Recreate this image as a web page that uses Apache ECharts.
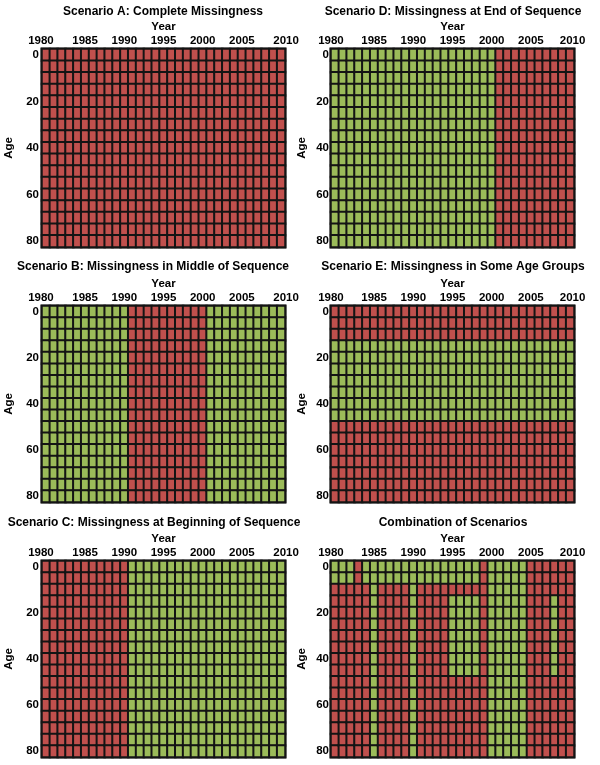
<!DOCTYPE html>
<html>
<head>
<meta charset="utf-8">
<script src="https://cdn.jsdelivr.net/npm/echarts@6/dist/echarts.min.js"></script>
<style>
  html, body { margin: 0; padding: 0; background: #fff; }
  #chart { width: 600px; height: 765px; }
</style>
</head>
<body>
<div id="chart"></div>
<script>
// ---- Data ----
const years = [1980, 1981, 1982, 1983, 1984, 1985, 1986, 1987, 1988, 1989, 1990,
               1991, 1992, 1993, 1994, 1995, 1996, 1997, 1998, 1999, 2000,
               2001, 2002, 2003, 2004, 2005, 2006, 2007, 2008, 2009, 2010];
const ages = [0, 5, 10, 15, 20, 25, 30, 35, 40, 45, 50, 55, 60, 65, 70, 75, 80];

const panelTitles = [
  'Scenario A: Complete Missingness',
  'Scenario D: Missingness at End of Sequence',
  'Scenario B: Missingness in Middle of Sequence',
  'Scenario E: Missingness in Some Age Groups',
  'Scenario C: Missingness at Beginning of Sequence',
  'Combination of Scenarios'
];

// Missing blocks: [yearFrom, yearTo, ageFrom, ageTo]  (all other cells observed)
const missingA = [[1980, 2010, 0, 80]];
const missingD = [[2001, 2010, 0, 80]];
const missingB = [[1991, 2000, 0, 80]];
const missingE = [[1980, 2010, 0, 10], [1980, 2010, 50, 80]];
const missingC = [[1980, 1990, 0, 80]];
const missingCombo = [
  [1983, 1983, 0, 5], [1999, 1999, 0, 5], [2005, 2010, 0, 5],
  [1980, 1984, 10, 80], [1986, 1989, 10, 80], [1991, 1994, 10, 80],
  [1995, 1998, 10, 10], [1995, 1998, 50, 80], [1999, 1999, 10, 80],
  [2005, 2007, 10, 80], [2008, 2008, 10, 10], [2008, 2008, 50, 80],
  [2009, 2010, 10, 80]
];
const panelMissing = [missingA, missingD, missingB, missingE, missingC, missingCombo];

// ---- Styling ----
const RED = '#c0504d';
const GREEN = '#9bbb59';
const LINE = '#141414';
const FONT = '"Liberation Sans", Arial, sans-serif';
const gridLeft = [42, 331];
const gridWidth = 243;
const gridTop = [49, 306, 561];
const gridHeight = [198, 196, 196];
const titleCenter = [163, 453, 153, 453, 154, 453];
const titleTop = [6, 261, 517];
const firstPad = [10, 8];
const lastPad = [10, 5];

function cellsFor(blocks) {
  const out = [];
  years.forEach((y, xi) => {
    ages.forEach((a, yi) => {
      const miss = blocks.some(b => y >= b[0] && y <= b[1] && a >= b[2] && a <= b[3]);
      out.push([xi, yi, miss ? 1 : 0]);
    });
  });
  return out;
}

const labelFont = { fontSize: 11.5, fontWeight: 'bold', color: '#000', fontFamily: FONT };

const option = {
  animation: false,
  backgroundColor: '#fff',
  title: [], grid: [], xAxis: [], yAxis: [], series: [], visualMap: []
};

panelTitles.forEach((t, i) => {
  const col = i % 2, row = Math.floor(i / 2);
  option.title.push({
    text: t, left: titleCenter[i], top: titleTop[row], textAlign: 'center', padding: 0,
    textStyle: { fontSize: 12, fontWeight: 'bold', color: '#000', fontFamily: FONT }
  });
  option.grid.push({
    left: gridLeft[col], top: gridTop[row], width: gridWidth, height: gridHeight[row],
    show: true, borderColor: LINE, borderWidth: 3, backgroundColor: 'transparent',
    containLabel: false
  });
  option.xAxis.push({
    type: 'category', gridIndex: i, position: 'top', data: years,
    axisLine: { show: false }, axisTick: { show: false }, splitLine: { show: false },
    axisLabel: Object.assign({}, labelFont, {
      interval: 4, margin: 2,
      formatter: (v, idx) => idx === 0 ? '{a|' + v + '}' : (idx === years.length - 1 ? '{b|' + v + '}' : String(v)),
      rich: {
        a: Object.assign({}, labelFont, { padding: [0, firstPad[col], 0, 0] }),
        b: Object.assign({}, labelFont, { padding: [0, 0, 0, lastPad[col]] })
      }
    }),
    name: 'Year', nameLocation: 'middle', nameGap: 16,
    nameTextStyle: labelFont
  });
  option.yAxis.push({
    type: 'category', gridIndex: i, inverse: true, data: ages,
    axisLine: { show: false }, axisTick: { show: false }, splitLine: { show: false },
    axisLabel: Object.assign({}, labelFont, { interval: 3, margin: col === 0 ? 3 : 2 }),
    name: 'Age', nameLocation: 'middle', nameGap: col === 0 ? 27 : 23,
    nameTextStyle: labelFont
  });
  option.series.push({
    type: 'heatmap', xAxisIndex: i, yAxisIndex: i,
    data: cellsFor(panelMissing[i]),
    itemStyle: { borderColor: LINE, borderWidth: 2 },
    emphasis: { disabled: true }
  });
  option.visualMap.push({
    type: 'piecewise', show: false, seriesIndex: i, dimension: 2,
    pieces: [{ value: 0, color: GREEN }, { value: 1, color: RED }]
  });
});

const chart = echarts.init(document.getElementById('chart'), null, { renderer: 'canvas' });
chart.setOption(option);
</script>
</body>
</html>
